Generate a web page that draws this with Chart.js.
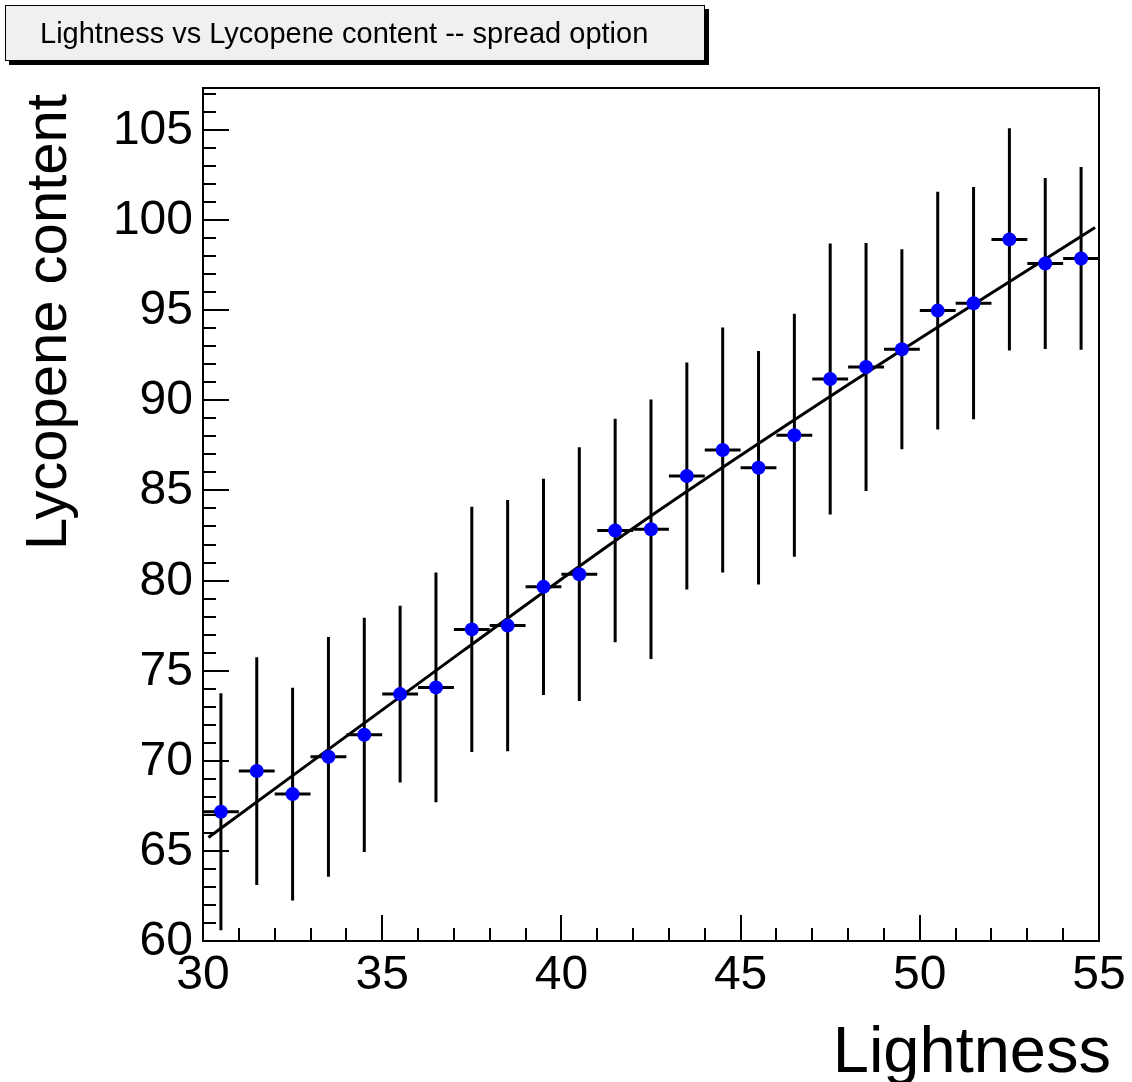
<!DOCTYPE html>
<html>
<head>
<meta charset="utf-8">
<script src="https://cdn.jsdelivr.net/npm/chart.js@4/dist/chart.umd.min.js"></script>
<style>
  html, body { margin: 0; padding: 0; background: #ffffff; }
  #c { display: block; }
</style>
</head>
<body>
<canvas id="c" width="1132" height="1082"></canvas>
<script>
// ---- data ----
const binCenters = [30.5, 31.5, 32.5, 33.5, 34.5, 35.5, 36.5, 37.5, 38.5, 39.5, 40.5, 41.5, 42.5,
                    43.5, 44.5, 45.5, 46.5, 47.5, 48.5, 49.5, 50.5, 51.5, 52.5, 53.5, 54.5];
const meanValues = [67.17, 69.43, 68.15, 70.22, 71.44, 73.70, 74.07, 77.29, 77.50, 79.65, 80.35, 82.78, 82.85,
                    85.80, 87.24, 86.26, 88.06, 91.18, 91.85, 92.83, 94.98, 95.39, 98.93, 97.59, 97.87];
const spreadValues = [6.58, 6.32, 5.90, 6.65, 6.50, 4.90, 6.37, 6.80, 6.97, 6.00, 7.04, 6.20, 7.20,
                      6.30, 6.80, 6.48, 6.74, 7.52, 6.88, 5.55, 6.60, 6.44, 6.17, 4.74, 5.07];
const binHalfWidth = 0.5;
const fitX = [30.15, 37.26, 42.0, 48.05, 54.89];
const fitY = [65.74, 76.11, 82.9, 90.93, 99.59];
const xTickLabels = ['30', '35', '40', '45', '50', '55'];
const yTickLabels = ['60', '65', '70', '75', '80', '85', '90', '95', '100', '105'];
const titleText = 'Lightness vs Lycopene content -- spread option';
const xTitle = 'Lightness';
const yTitle = 'Lycopene content';

const FONT = '"Liberation Sans", Arial, Helvetica, sans-serif';

const rootStyle = {
  id: 'rootStyle',
  beforeDatasetsDraw(chart) {
    const ctx = chart.ctx;
    const xs = chart.scales.x, ys = chart.scales.y;
    ctx.save();
    ctx.strokeStyle = '#000';
    ctx.lineWidth = 3;
    ctx.lineCap = 'butt';
    for (let i = 0; i < binCenters.length; i++) {
      const px = xs.getPixelForValue(binCenters[i]);
      const py = ys.getPixelForValue(meanValues[i]);
      const top = ys.getPixelForValue(meanValues[i] + spreadValues[i]);
      const bot = ys.getPixelForValue(meanValues[i] - spreadValues[i]);
      const l = xs.getPixelForValue(binCenters[i] - binHalfWidth);
      const r = xs.getPixelForValue(binCenters[i] + binHalfWidth);
      ctx.beginPath();
      ctx.moveTo(px, top); ctx.lineTo(px, bot);
      ctx.moveTo(l, py); ctx.lineTo(r, py);
      ctx.stroke();
    }
    ctx.restore();
  },
  afterDraw(chart) {
    const ctx = chart.ctx;
    const xs = chart.scales.x, ys = chart.scales.y;
    const a = chart.chartArea;
    ctx.save();
    // frame
    ctx.strokeStyle = '#000';
    ctx.lineWidth = 2;
    ctx.strokeRect(a.left, a.top, a.right - a.left, a.bottom - a.top);
    // x ticks
    ctx.lineWidth = 2;
    ctx.beginPath();
    for (let v = xs.min; v <= xs.max + 1e-9; v += 1) {
      const px = Math.round(xs.getPixelForValue(v));
      const major = Math.abs(v / 5 - Math.round(v / 5)) < 1e-9;
      const len = major ? 26 : 13;
      ctx.moveTo(px, a.bottom); ctx.lineTo(px, a.bottom - len);
    }
    // y ticks
    for (let v = ys.min; v <= ys.max + 1e-9; v += 1) {
      const py = Math.round(ys.getPixelForValue(v));
      const major = Math.abs(v / 5 - Math.round(v / 5)) < 1e-9;
      const len = major ? 26 : 13;
      ctx.moveTo(a.left, py); ctx.lineTo(a.left + len, py);
    }
    ctx.stroke();
    // tick labels
    ctx.fillStyle = '#000';
    ctx.font = '48px ' + FONT;
    ctx.textAlign = 'center';
    ctx.textBaseline = 'alphabetic';
    xTickLabels.forEach(t => {
      ctx.fillText(t, xs.getPixelForValue(parseFloat(t)), a.bottom + 48);
    });
    ctx.textAlign = 'right';
    yTickLabels.forEach(t => {
      ctx.fillText(t, a.left - 10, ys.getPixelForValue(parseFloat(t)) + 14);
    });
    // axis titles
    ctx.font = '65px ' + FONT;
    ctx.textAlign = 'right';
    ctx.fillText(xTitle, 1111, 1072);
    ctx.save();
    ctx.font = '58px ' + FONT;
    ctx.translate(66, 322);
    ctx.rotate(-Math.PI / 2);
    ctx.textAlign = 'center';
    ctx.fillText(yTitle, 0, 0);
    ctx.restore();
    // title box with shadow
    ctx.fillStyle = '#000';
    ctx.fillRect(9, 9, 700, 56);
    ctx.fillStyle = '#f0f0f0';
    ctx.fillRect(5, 5, 700, 56);
    ctx.lineWidth = 1;
    ctx.strokeStyle = '#000';
    ctx.strokeRect(5.5, 5.5, 699, 55);
    ctx.fillStyle = '#000';
    ctx.font = '29px ' + FONT;
    ctx.textAlign = 'left';
    ctx.fillText(titleText, 40, 43);
    ctx.restore();
  }
};

new Chart(document.getElementById('c'), {
  type: 'scatter',
  data: {
    datasets: [
      {
        label: 'fit',
        data: fitX.map((x, i) => ({ x: x, y: fitY[i] })),
        showLine: true,
        borderColor: '#000',
        borderWidth: 3,
        pointRadius: 0,
        cubicInterpolationMode: 'monotone',
        order: 1
      },
      {
        label: 'profile',
        data: binCenters.map((x, i) => ({ x: x, y: meanValues[i] })),
        showLine: false,
        pointRadius: 7,
        pointBackgroundColor: '#0000ff',
        pointBorderColor: '#0000ff',
        pointBorderWidth: 0,
        order: 0
      }
    ]
  },
  options: {
    responsive: false,
    animation: false,
    devicePixelRatio: 1,
    layout: { autoPadding: false, padding: { left: 203, right: 33, top: 88, bottom: 141 } },
    plugins: { legend: { display: false }, tooltip: { enabled: false }, title: { display: false } },
    scales: {
      x: { type: 'linear', min: 30, max: 55, display: false },
      y: { type: 'linear', min: 60, max: 107.33, display: false }
    }
  },
  plugins: [rootStyle]
});
</script>
</body>
</html>
